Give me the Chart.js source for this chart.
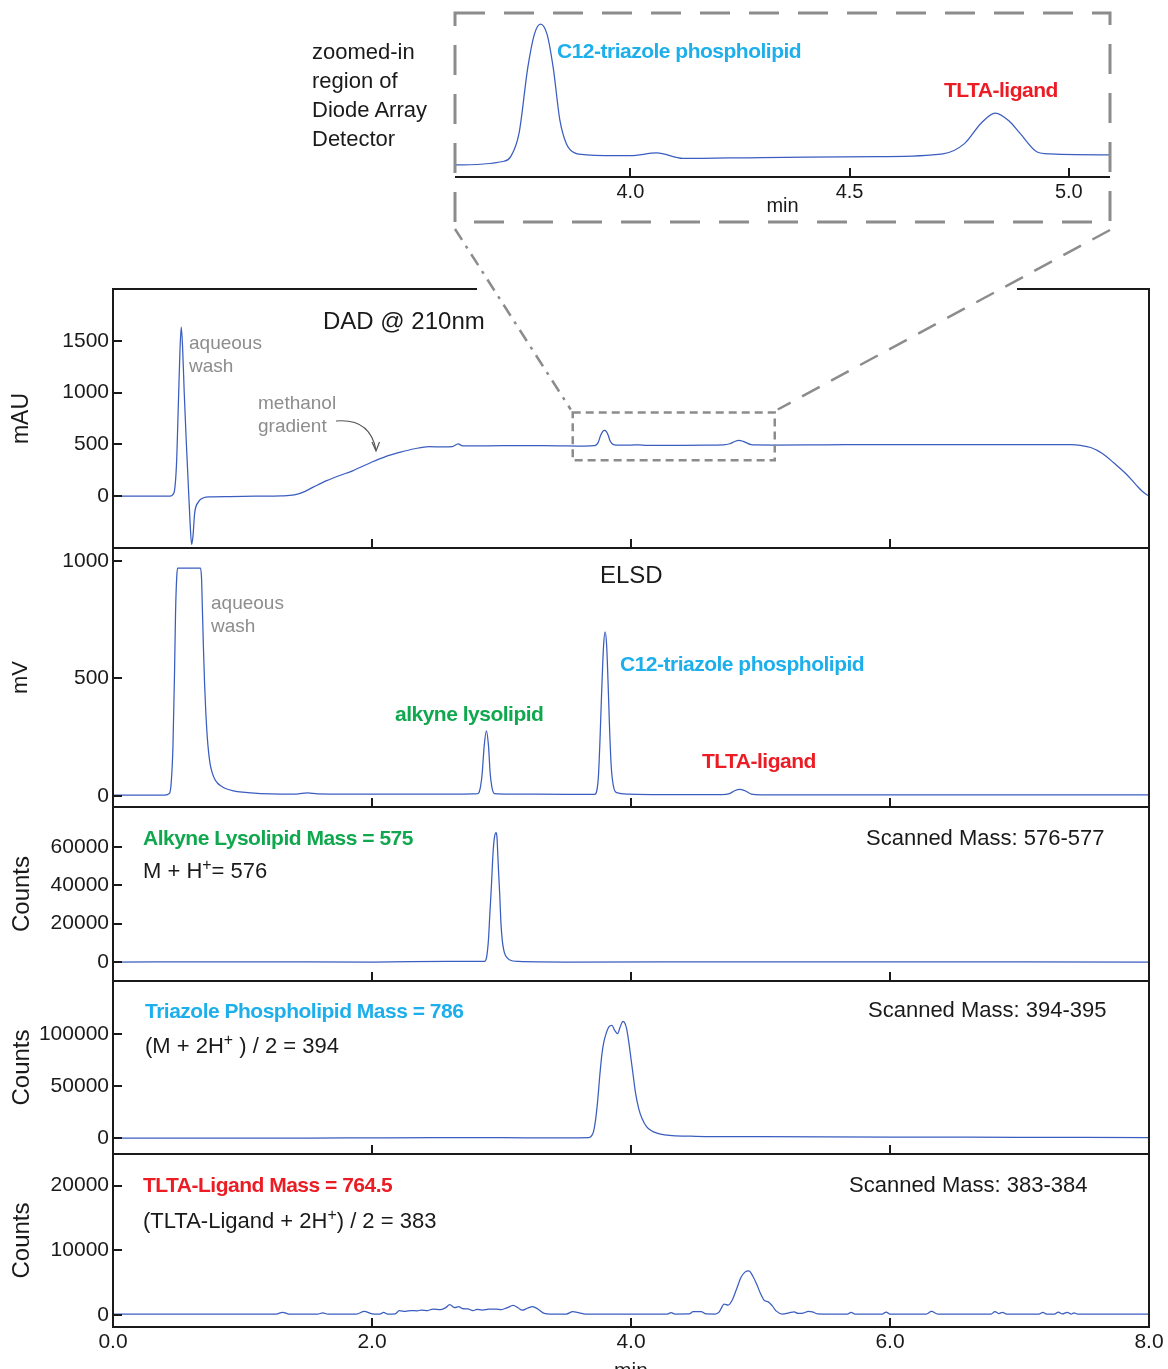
<!DOCTYPE html>
<html>
<head>
<meta charset="utf-8">
<script src="https://cdn.jsdelivr.net/npm/chart.js@4.4.1/dist/chart.umd.min.js"></script>
<style>
html,body{margin:0;padding:0;background:#fff;overflow:hidden;}
#page{position:relative;width:1168px;height:1369px;overflow:hidden;font-family:"Liberation Sans",Arial,Helvetica,sans-serif;}
#page canvas{position:absolute;}
.t{position:absolute;white-space:nowrap;color:#1a1a1a;font-size:22px;line-height:24px;z-index:5;}
.b{font-weight:bold;letter-spacing:-0.5px;font-size:21px;}
.g{color:#8d8d8d;font-size:19px;line-height:23px;}
.cy{color:#1cafec;} .gr{color:#10a84e;} .rd{color:#ec1c24;}
sup{font-size:0.72em;vertical-align:0.5em;line-height:0;}
</style>
</head>
<body>
<div id="page">
  <div class="t" style="left:312px;top:37px;line-height:29px;">zoomed-in<br>region of<br>Diode Array<br>Detector</div>
  <div class="t b cy" style="left:557px;top:39px;">C12-triazole phospholipid</div>
  <div class="t b rd" style="left:944px;top:78px;">TLTA-ligand</div>

  <div class="t" style="left:323px;top:307px;font-size:24px;line-height:28px;">DAD @ 210nm</div>
  <div class="t g" style="left:189px;top:331px;">aqueous<br>wash</div>
  <div class="t g" style="left:258px;top:391px;">methanol<br>gradient</div>

  <div class="t" style="left:600px;top:561px;font-size:24px;line-height:28px;">ELSD</div>
  <div class="t g" style="left:211px;top:591px;">aqueous<br>wash</div>
  <div class="t b gr" style="left:395px;top:702px;">alkyne lysolipid</div>
  <div class="t b cy" style="left:620px;top:652px;">C12-triazole phospholipid</div>
  <div class="t b rd" style="left:702px;top:749px;">TLTA-ligand</div>

  <div class="t b gr" style="left:143px;top:826px;">Alkyne Lysolipid Mass = 575</div>
  <div class="t" style="left:143px;top:859px;">M + H<sup>+</sup>= 576</div>
  <div class="t" style="left:866px;top:826px;">Scanned Mass: 576-577</div>

  <div class="t b cy" style="left:145px;top:999px;">Triazole Phospholipid Mass = 786</div>
  <div class="t" style="left:145px;top:1034px;">(M + 2H<sup>+</sup> ) / 2 = 394</div>
  <div class="t" style="left:868px;top:998px;">Scanned Mass: 394-395</div>

  <div class="t b rd" style="left:143px;top:1173px;">TLTA-Ligand Mass = 764.5</div>
  <div class="t" style="left:143px;top:1209px;">(TLTA-Ligand + 2H<sup>+</sup>) / 2 = 383</div>
  <div class="t" style="left:849px;top:1173px;">Scanned Mass: 383-384</div>
</div>
<script>
// ---- retention time axis ----
const timeTicks = [0, 2, 4, 6, 8];
const insetTicks = [4.0, 4.5, 5.0];

// ---- DAD @ 210 nm (mAU) ----
const dadTime = [0, 0.2, 0.44, 0.47, 0.49, 0.505, 0.517, 0.527, 0.537, 0.55, 0.565, 0.58, 0.595, 0.607, 0.618, 0.63, 0.66, 0.7, 0.75, 0.9,
  1.1, 1.3, 1.4, 1.47, 1.55, 1.65, 1.75, 1.85, 2.0, 2.1, 2.22, 2.33, 2.44, 2.55, 2.62, 2.665, 2.7, 2.8, 3.0, 3.3, 3.45, 3.6,
  3.712, 3.727, 3.746, 3.766, 3.781, 3.795, 3.81, 3.824, 3.839, 3.854, 3.873, 3.9, 4.0, 4.06, 4.12, 4.3, 4.566, 4.713, 4.762,
  4.8, 4.832, 4.865, 4.889, 4.928, 4.957, 5.1, 5.5, 6.0, 6.5, 7.0, 7.4, 7.47, 7.55, 7.64, 7.73, 7.82, 7.9, 7.95, 8.0];
const dadMau = [0, 0, 0, 30, 300, 900, 1400, 1632, 1450, 1000, 550, 150, -250, -464, -380, -170, -55, -15, -6, -3,
  0, 3, 12, 40, 90, 150, 200, 245, 330, 380, 425, 458, 478, 475, 478, 505, 486, 485, 487, 487, 486, 483,
  487, 492, 517, 588, 624, 635, 624, 588, 532, 506, 496, 494, 493, 496, 490, 491, 492, 495, 506,
  528, 539, 530, 517, 497, 495, 494, 496, 498, 498, 498, 497, 490, 470, 413, 320, 219, 110, 45, 0];
const dadTicks = [0, 500, 1000, 1500];
// window of the DAD trace shown enlarged above the panels
const zoomWindow = { t0: 3.55, t1: 5.11, lo: 346, hi: 808 };

// ---- ELSD (mV) ----
const elsdTime = [0, 0.4, 0.436, 0.45, 0.463, 0.475, 0.483, 0.492, 0.499, 0.676, 0.684, 0.69, 0.698, 0.707, 0.717, 0.728, 0.739, 0.752,
  0.767, 0.785, 0.808, 0.835, 0.863, 0.93, 1.0, 1.14, 1.3, 1.415, 1.5, 1.58, 1.8, 2.2, 2.66, 2.8, 2.822, 2.838, 2.85, 2.866, 2.883,
  2.9, 2.912, 2.925, 2.946, 3.07, 3.5, 3.72, 3.735, 3.748, 3.76, 3.772, 3.788, 3.8, 3.812, 3.823, 3.835, 3.848, 3.865, 3.89, 3.98,
  4.2, 4.7, 4.76, 4.8, 4.84, 4.88, 4.93, 5.0, 6.0, 7.0, 8.0];
const elsdMv = [4, 4, 11, 60, 210, 520, 780, 930, 969, 969, 922, 800, 637, 480, 353, 250, 182, 130,
  97, 72, 54, 42, 33, 22, 16, 10, 8, 8, 13, 9, 8, 8, 8, 9, 12, 40, 90, 210, 277,
  210, 100, 40, 10, 8, 7, 7, 20, 80, 230, 420, 637, 698, 640, 480, 280, 120, 40, 14, 8,
  6, 6, 10, 22, 28, 22, 8, 5, 5, 5, 5];
const elsdTicks = [0, 500, 1000];

// ---- MS, scanned mass 576-577 (counts) ----
const ms576Time = [0, 1.0, 2.0, 2.59, 2.87, 2.885, 2.899, 2.91, 2.923, 2.933, 2.94, 2.948, 2.958, 2.965, 2.972, 2.979, 2.986,
  2.996, 3.006, 3.018, 3.03, 3.06, 3.13, 3.5, 5.0, 8.0];
const ms576Counts = [0, 100, 0, 300, 350, 2500, 11300, 25000, 40900, 55000, 61700, 66000, 67500, 65000, 55000, 45000, 35600,
  20000, 11300, 6000, 3500, 1200, 300, 0, 100, 0];
const ms576Ticks = [0, 20000, 40000, 60000];

// ---- MS, scanned mass 394-395 (counts) ----
const ms394Time = [0, 1.5, 2.0, 2.5, 3.0, 3.5, 3.672, 3.69, 3.71, 3.724, 3.742, 3.759, 3.775, 3.79, 3.81, 3.828, 3.852, 3.875,
  3.897, 3.915, 3.938, 3.953, 3.966, 3.983, 4.0, 4.017, 4.034, 4.06, 4.086, 4.12, 4.155, 4.2, 4.259, 4.5, 5.0, 6.0, 7.0, 8.0];
const ms394Counts = [0, 0, 300, 500, 400, 300, 500, 1500, 6000, 15300, 35000, 60000, 80000, 92000, 101000, 106400, 108000, 103000,
  100000, 106000, 111800, 110000, 104800, 92000, 76000, 60000, 44000, 28000, 18500, 11000, 7300, 4800, 3200, 1800, 1400, 1000, 800, 600];
const ms394Ticks = [0, 50000, 100000];

// ---- MS, scanned mass 383-384 (counts) ----
const ms383Time = [0, 1.26, 1.31, 1.36, 1.58, 1.62, 1.66, 1.88, 1.94, 2.0, 2.06, 2.09, 2.12, 2.18, 2.21, 2.26, 2.3, 2.35, 2.38,
  2.43, 2.47, 2.53, 2.57, 2.6, 2.64, 2.67, 2.7, 2.74, 2.78, 2.81, 2.85, 2.9, 2.96, 3.0, 3.04, 3.09, 3.13, 3.16, 3.2, 3.24, 3.28,
  3.33, 3.38, 3.5, 3.55, 3.6, 3.65, 4.28, 4.31, 4.34, 4.45, 4.48, 4.54, 4.58, 4.65, 4.68, 4.72, 4.75, 4.78, 4.81, 4.85, 4.88,
  4.91, 4.94, 4.97, 5.0, 5.03, 5.06, 5.09, 5.12, 5.17, 5.22, 5.26, 5.29, 5.33, 5.37, 5.4, 5.44, 5.67, 5.7, 5.73, 5.94, 5.97,
  6.0, 6.28, 6.32, 6.37, 6.78, 6.81, 6.84, 6.87, 6.9, 7.15, 7.18, 7.21, 7.27, 7.3, 7.33, 7.37, 7.4, 7.42, 7.45, 8.0];
const ms383Counts = [100, 100, 380, 100, 100, 280, 100, 100, 520, 150, 100, 380, 100, 150, 620, 520, 650, 600, 720,
  650, 880, 800, 1100, 1550, 1100, 1250, 950, 900, 650, 830, 720, 850, 880, 800, 1050, 1450, 1050, 700, 1000, 1250, 900,
  200, 100, 100, 480, 300, 100, 100, 320, 100, 120, 480, 480, 120, 100, 400, 1650, 1500, 2200, 3700, 5800, 6600,
  6800, 6000, 4750, 3300, 2200, 2000, 1400, 600, 100, 300, 450, 200, 250, 520, 450, 150, 100, 380, 100, 100, 420,
  100, 100, 520, 100, 100, 480, 180, 380, 100, 100, 350, 100, 100, 420, 120, 380, 100, 300, 100, 100];
const ms383Ticks = [0, 10000, 20000];

// ---------------------------------------------------------------
const FONT = '"Liberation Sans", Arial, Helvetica, sans-serif';
const INK = '#1a1a1a';
const TRACE = '#3a5dbf';
const GREY = '#8c8c8c';
Chart.defaults.font.family = FONT;
Chart.defaults.color = INK;

const page = document.getElementById('page');
const points = (xs, ys) => xs.map((x, i) => ({ x, y: ys[i] }));
const useTicks = list => scale => { scale.ticks = list.map(v => ({ value: v })); };
const noGrid = { display: false, drawTicks: false };

// frame round the plot area and inward-pointing tick marks
const framePlugin = {
  id: 'frame',
  afterDraw(chart, args, opts) {
    const { ctx, chartArea: a, scales } = chart;
    ctx.save();
    ctx.strokeStyle = INK;
    ctx.lineWidth = 2;
    ctx.beginPath();
    if (opts.box) {
      ctx.rect(a.left, a.top, a.right - a.left, a.bottom - a.top);
    } else {
      ctx.moveTo(a.left, a.bottom); ctx.lineTo(a.right, a.bottom);
    }
    for (const t of scales.x.ticks) {
      const px = Math.round(scales.x.getPixelForValue(t.value));
      ctx.moveTo(px, a.bottom); ctx.lineTo(px, a.bottom - 9);
    }
    if (opts.yTicks) {
      for (const t of scales.y.ticks) {
        const py = Math.round(scales.y.getPixelForValue(t.value));
        ctx.moveTo(a.left, py); ctx.lineTo(a.left + 9, py);
      }
    }
    ctx.stroke();
    ctx.restore();
  }
};

function addCanvas(left, top, w, h, z) {
  const c = document.createElement('canvas');
  c.width = w; c.height = h;
  c.style.left = left + 'px'; c.style.top = top + 'px';
  c.style.width = w + 'px'; c.style.height = h + 'px';
  c.style.zIndex = z || 1;
  page.appendChild(c);
  return c;
}

const PAD = 24;
function panel(p) {
  const top = p.top - PAD;
  const bottom = p.last ? 1390 : p.bottom + PAD;
  const cv = addCanvas(0, top, 1168, bottom - top, 1);
  const xScale = {
    type: 'linear', min: 0, max: 8, display: !!p.last,
    afterBuildTicks: useTicks(timeTicks),
    grid: noGrid, border: { display: false },
    ticks: { font: { size: 21 }, padding: 3, maxRotation: 0, color: INK, callback: v => Number(v).toFixed(1) },
    title: { display: true, text: 'min', font: { size: 21 }, padding: { top: 0, bottom: 6 }, color: INK }
  };
  if (p.last) xScale.afterFit = s => { s.height = 63; };
  const chart = new Chart(cv, {
    type: 'line',
    data: { datasets: [{ data: points(p.xs, p.ys), borderColor: TRACE, borderWidth: 1.25, pointRadius: 0,
      cubicInterpolationMode: 'monotone', fill: false }] },
    options: {
      responsive: false, animation: false, devicePixelRatio: 1,
      layout: { padding: { left: 0, right: 19, top: PAD, bottom: p.last ? 0 : PAD } },
      plugins: { legend: { display: false }, tooltip: { enabled: false }, frame: { box: true, yTicks: true } },
      scales: {
        x: xScale,
        y: {
          type: 'linear', min: p.ymin, max: p.ymax,
          afterBuildTicks: useTicks(p.yTicks),
          afterFit: s => { s.width = 113; },
          grid: noGrid, border: { display: false },
          ticks: { font: { size: 21 }, padding: 4, color: INK, callback: v => String(v) },
          title: { display: true, text: p.title, font: { size: p.titleSize }, padding: { top: 8, bottom: 0 }, color: INK }
        }
      }
    },
    plugins: [framePlugin]
  });
  chart.pageTop = top;
  return chart;
}

const dadChart = panel({ top: 289, bottom: 548, ymin: -500, ymax: 2000, yTicks: dadTicks, xs: dadTime, ys: dadMau, title: 'mAU', titleSize: 23 });
panel({ top: 548, bottom: 807, ymin: -47, ymax: 1055, yTicks: elsdTicks, xs: elsdTime, ys: elsdMv, title: 'mV', titleSize: 22 });
panel({ top: 807, bottom: 981, ymin: -9900, ymax: 80800, yTicks: ms576Ticks, xs: ms576Time, ys: ms576Counts, title: 'Counts', titleSize: 24 });
panel({ top: 981, bottom: 1154, ymin: -15200, ymax: 150500, yTicks: ms394Ticks, xs: ms394Time, ys: ms394Counts, title: 'Counts', titleSize: 24 });
panel({ top: 1154, bottom: 1327, ymin: -1900, ymax: 24900, yTicks: ms383Ticks, xs: ms383Time, ys: ms383Counts, title: 'Counts', titleSize: 24, last: true });

// enlarged view of the DAD trace between 3.6 and 5.1 min
const insetCanvas = addCanvas(440, 0, 690, 218, 2);
new Chart(insetCanvas, {
  type: 'line',
  data: { datasets: [{ data: points(dadTime, dadMau), borderColor: TRACE, borderWidth: 1.25, pointRadius: 0,
    cubicInterpolationMode: 'monotone', fill: false }] },
  options: {
    responsive: false, animation: false, devicePixelRatio: 1,
    layout: { padding: { left: 15, right: 20, top: 13, bottom: 0 } },
    plugins: { legend: { display: false }, tooltip: { enabled: false }, frame: { box: false, yTicks: false } },
    scales: {
      x: {
        type: 'linear', min: 3.6, max: 5.094,
        afterBuildTicks: useTicks(insetTicks),
        afterFit: s => { s.height = 41; },
        grid: noGrid, border: { display: false },
        ticks: { font: { size: 20 }, padding: 3, maxRotation: 0, color: INK, callback: v => Number(v).toFixed(1) },
        title: { display: true, text: 'min', font: { size: 20 }, padding: { top: 0, bottom: 0 }, color: INK }
      },
      y: { type: 'linear', min: 470, max: 647, display: false }
    }
  },
  plugins: [framePlugin]
});

// dashed call-out: box round the window, box round the inset, connecting lines
const ov = addCanvas(0, 0, 1168, 1369, 3);
const g = ov.getContext('2d');
const sx = dadChart.scales.x, sy = dadChart.scales.y;
const wx0 = sx.getPixelForValue(zoomWindow.t0), wx1 = sx.getPixelForValue(zoomWindow.t1);
const wy0 = dadChart.pageTop + sy.getPixelForValue(zoomWindow.hi), wy1 = dadChart.pageTop + sy.getPixelForValue(zoomWindow.lo);

// the frame's top edge is left open where the call-out passes
g.fillStyle = '#fff';
g.fillRect(477, 285, 540, 8);

g.strokeStyle = GREY;
g.lineCap = 'butt';
// inset box
g.lineWidth = 3;
g.setLineDash([30, 19]);
g.strokeRect(455, 13, 655, 209);
// window box on the DAD trace
g.lineWidth = 2.5;
g.setLineDash([8, 5]);
g.strokeRect(wx0, wy0, wx1 - wx0, wy1 - wy0);
// connectors
g.lineWidth = 2.5;
g.setLineDash([13, 7, 3, 7]);
g.beginPath(); g.moveTo(455, 229); g.lineTo(wx0 - 2, wy0 - 3); g.stroke();
g.setLineDash([20, 13]);
g.beginPath(); g.moveTo(1110, 230); g.lineTo(wx1 + 3, wy0 - 3); g.stroke();

// arrow pointing at the gradient ramp
g.setLineDash([]);
g.strokeStyle = '#555';
g.lineWidth = 1.2;
g.beginPath(); g.moveTo(336, 421); g.quadraticCurveTo(370, 418, 376, 450); g.stroke();
g.beginPath(); g.moveTo(372, 442); g.lineTo(376, 451); g.lineTo(379.5, 442); g.stroke();
</script>
</body>
</html>
